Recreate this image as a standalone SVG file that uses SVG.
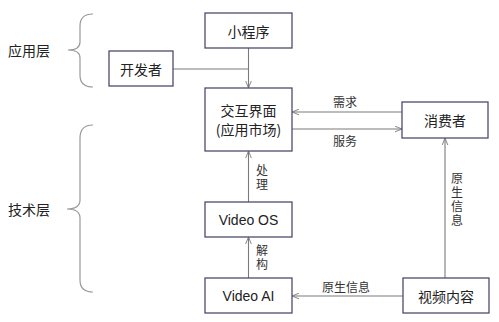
<svg xmlns="http://www.w3.org/2000/svg" width="499" height="322" viewBox="0 0 499 322">
<defs>
<style>
.box{fill:#fff;stroke:#4f4b6e;stroke-width:1.3}
.t{font-family:"Noto Sans CJK SC","Liberation Sans",sans-serif;font-size:14px;fill:#222;text-anchor:middle;dominant-baseline:central}
.v{font-family:"Liberation Sans","Noto Sans CJK SC",sans-serif;font-size:14px;fill:#222;text-anchor:middle;dominant-baseline:central}
.l{font-family:"Noto Sans CJK SC",sans-serif;font-size:12px;fill:#333;text-anchor:middle;dominant-baseline:central}
.vt{font-family:"Noto Sans CJK SC",sans-serif;font-size:12px;fill:#333;text-anchor:middle;writing-mode:vertical-rl;letter-spacing:2px}
.c{fill:none;stroke:#7a7a7a;stroke-width:1.1}
.br{fill:none;stroke:#999;stroke-width:1.2}
</style>
<marker id="a" viewBox="0 0 10 10" refX="10" refY="5" markerWidth="7" markerHeight="7" orient="auto-start-reverse" markerUnits="userSpaceOnUse">
<path d="M0,1 L10,5 L0,9" fill="none" stroke="#7a7a7a" stroke-width="1.3"/>
</marker>
</defs>
<rect width="499" height="322" fill="#fff"/>
<g id="braces">
<path class="br" d="M93,14 Q80,14 80,26 L80,42 Q80,50 68,50 Q80,50 80,58 L80,75 Q80,87 93,87"/>
<path class="br" d="M93,125 Q80,125 80,138 L80,200 Q80,209 67,209 Q80,209 80,218 L80,280 Q80,292 93,292"/>
<text class="t" x="29" y="50">应用层</text>
<text class="t" x="29" y="209">技术层</text>
</g>
<g id="connectors">
<path class="c" d="M248.5,48 L248.5,88" marker-end="url(#a)"/>
<path class="c" d="M173,69 L248.5,69"/>
<path class="c" d="M402,112 L292,112" marker-end="url(#a)"/>
<path class="c" d="M292,129 L402,129" marker-end="url(#a)"/>
<path class="c" d="M248.5,202 L248.5,151" marker-end="url(#a)"/>
<path class="c" d="M248.5,278 L248.5,237" marker-end="url(#a)"/>
<path class="c" d="M445,278 L445,138" marker-end="url(#a)"/>
<path class="c" d="M403,296 L292,296" marker-end="url(#a)"/>
<text class="l" x="345" y="101">需求</text>
<text class="l" x="345" y="140">服务</text>
<text class="vt" x="262" y="178">处理</text>
<text class="vt" x="262" y="258">解构</text>
<text class="vt" x="457" y="200">原生信息</text>
<text class="l" x="346" y="286">原生信息</text>
</g>
<g id="n-miniapp"><rect class="box" x="205" y="13" width="87" height="35"/><text class="t" x="248.5" y="31">小程序</text></g>
<g id="n-dev"><rect class="box" x="109" y="51" width="64" height="35"/><text class="t" x="141" y="69">开发者</text></g>
<g id="n-ui"><rect class="box" x="205" y="88" width="87" height="63"/><text class="t" x="248.5" y="110">交互界面</text><text class="t" x="248.5" y="129">(应用市场)</text></g>
<g id="n-consumer"><rect class="box" x="402" y="102" width="86" height="36"/><text class="t" x="445" y="120">消费者</text></g>
<g id="n-os"><rect class="box" x="205" y="202" width="87" height="35"/><text class="v" x="248.5" y="220">Video OS</text></g>
<g id="n-ai"><rect class="box" x="205" y="278" width="87" height="35"/><text class="v" x="248.5" y="296">Video AI</text></g>
<g id="n-content"><rect class="box" x="403" y="278" width="86" height="35"/><text class="t" x="446" y="296">视频内容</text></g>
</svg>
